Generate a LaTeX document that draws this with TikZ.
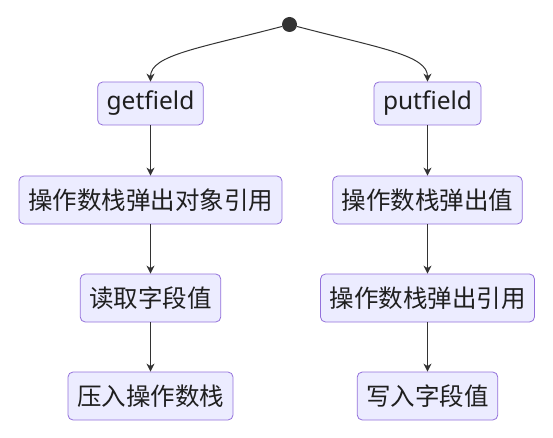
\documentclass[tikz,border=0pt]{standalone}
\usepackage{fontspec}
\setmainfont{Noto Sans}
\newfontfamily\cjk{Noto Sans CJK SC}
\usetikzlibrary{arrows.meta}
\definecolor{caja}{HTML}{ECECFF}
\definecolor{borde}{HTML}{9370DB}
\definecolor{linea}{HTML}{333333}
\begin{document}
\begin{tikzpicture}[x=1pt, y=-1pt]
\useasboundingbox (0,0) rectangle (553,438);

% Nodo inicial
\node[circle, fill = linea, inner sep = 0pt, minimum size = 15pt] (S) at (289.5,24.5) {};

% Nodos estado
\begin{scope}[
		every node/.style = {shape = rectangle, rounded corners = 5pt,
		draw = borde, fill = caja, line width = .8pt, text = black!88,
		inner xsep = 9pt, minimum height = 48pt,
		font = \cjk\fontsize{24.5}{28}\selectfont}]
	\node[minimum height = 43pt, font = \fontsize{24.5}{28}\selectfont] (G) at (150.5,103.5) {getfield};
	\node (G1) at (150.5,200) {操作数栈弹出对象引用};
	\node (G2) at (150.5,298) {读取字段值};
	\node (G3) at (150.5,396) {压入操作数栈};
	\node[minimum height = 43pt, font = \fontsize{24.5}{28}\selectfont] (P) at (427.5,103.5) {putfield};
	\node (P1) at (427.5,200) {操作数栈弹出值};
	\node (P2) at (427.5,298) {操作数栈弹出引用};
	\node (P3) at (427.5,396) {写入字段值};
\end{scope}

% Flechas
\begin{scope}[
		every edge/.style = {draw = linea, line width = 1pt,
		-{Stealth[length = 8pt, width = 8pt, inset = 2.5pt]}}]
	\path (G) edge (G1);
	\path (G1) edge (G2);
	\path (G2) edge (G3);
	\path (P) edge (P1);
	\path (P1) edge (P2);
	\path (P2) edge (P3);
	\path (S) edge[to path = {.. controls (200,48) and (150.5,55) .. (\tikztotarget)}] (G);
	\path (S) edge[to path = {.. controls (379,48) and (427.5,55) .. (\tikztotarget)}] (P);
\end{scope}
\end{tikzpicture}
\end{document}
